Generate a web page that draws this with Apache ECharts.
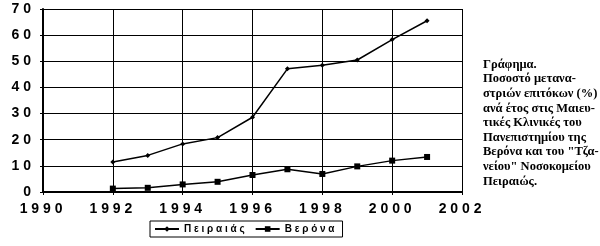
<!DOCTYPE html>
<html><head><meta charset="utf-8">
<script src="https://cdn.jsdelivr.net/npm/echarts@6/dist/echarts.min.js"></script>
<style>html,body{margin:0;padding:0;background:#fff}#c{width:600px;height:246px}</style>
</head><body><div id="c"></div>
<script>
const years = [1992,1993,1994,1995,1996,1997,1998,1999,2000,2001];
const peiraias = [11.5,14.0,18.4,20.8,28.6,47.1,48.5,50.5,58.3,65.5];
const verona = [1.3,1.6,2.9,3.9,6.5,8.7,6.9,9.8,12.0,13.4];
const xTicks = [1990,1992,1994,1996,1998,2000,2002];
const yTicks = [0,10,20,30,40,50,60,70];
const seriesNames = ['Πειραιάς','Βερόνα'];
const captionLines = ['Γράφημα.','Ποσοστό μετανα-','στριών επιτόκων (%)','ανά έτος στις Μαιευ-','τικές Κλινικές του','Πανεπιστημίου της','Βερόνα και του "Τζα-','νείου" Νοσοκομείου','Πειραιώς.'];

const spaced = s => String(s).split('').join(' ');
const chart = echarts.init(document.getElementById('c'), null, {renderer:'canvas'});
chart.setOption({
  animation:false,
  grid:{left:43, top:9, right:138, bottom:54},
  xAxis:{type:'value', min:1990, max:2002, interval:2,
    axisLine:{show:true, onZero:false, lineStyle:{color:'#000', width:2}},
    axisTick:{show:true, length:3, lineStyle:{color:'#000'}},
    splitLine:{show:true, lineStyle:{color:'#000', width:1}},
    axisLabel:{color:'#000', fontFamily:'Liberation Sans, Arial', fontWeight:'bold', fontSize:14, margin:10,
      formatter:v => xTicks.includes(v) ? spaced(v)+' ' : ''}
  },
  yAxis:{type:'value', min:0, max:70, interval:10,
    axisLine:{show:true, lineStyle:{color:'#000', width:2}},
    axisTick:{show:true, length:3, lineStyle:{color:'#000'}},
    splitLine:{show:true, lineStyle:{color:'#000', width:1}},
    axisLabel:{color:'#000', fontFamily:'Liberation Sans, Arial', fontWeight:'bold', fontSize:14, margin:12,
      formatter:v => yTicks.includes(v) ? spaced(v) : ''}
  },
  legend:{left:150, top:221, width:205, padding:[3,8,3,4], itemGap:10, itemWidth:24, itemHeight:7,
    borderColor:'#000', borderWidth:1,
    textStyle:{color:'#000', fontFamily:'Liberation Sans, Arial', fontWeight:'bold', fontSize:10},
    formatter:n => spaced(n),
    data:seriesNames},
  series:[
    {name:seriesNames[0], type:'line', data:years.map((y,i)=>[y,peiraias[i]]),
      symbol:'diamond', symbolSize:5, lineStyle:{color:'#000', width:1.5}, itemStyle:{color:'#000'}},
    {name:seriesNames[1], type:'line', data:years.map((y,i)=>[y,verona[i]]),
      symbol:'rect', symbolSize:6, lineStyle:{color:'#000', width:1.5}, itemStyle:{color:'#000'}}
  ],
  graphic: captionLines.map((t,i)=>({type:'text', left:483, top:58+i*14.6,
    style:{text:t, fill:'#000', font:'bold 12.5px "Liberation Serif", "Times New Roman", serif'}}))
});
</script></body></html>
